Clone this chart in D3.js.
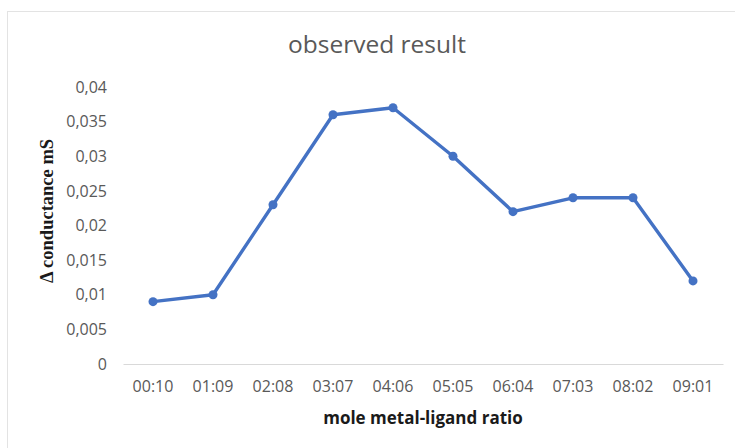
<!DOCTYPE html>
<html>
<head>
<meta charset="utf-8">
<script src="https://cdn.jsdelivr.net/npm/d3@7"></script>
<style>
  html, body { margin: 0; padding: 0; background: #ffffff; }
  svg { display: block; }
</style>
</head>
<body>
<svg id="chart" width="735" height="448"></svg>
<script>
// Mole ratio (metal:ligand) categories and the measured change in conductance
const ratios = ["00:10", "01:09", "02:08", "03:07", "04:06", "05:05", "06:04", "07:03", "08:02", "09:01"];
const conductance = [0.009, 0.010, 0.023, 0.036, 0.037, 0.030, 0.022, 0.024, 0.024, 0.012];
const yTicks = [0, 0.005, 0.01, 0.015, 0.02, 0.025, 0.03, 0.035, 0.04];

const titleText = "observed result";
const xTitle = "mole metal-ligand ratio";
const yTitle = "\u0394 conductance mS";

const svg = d3.select("#chart");
const W = 735, H = 448;
const plot = { left: 123, right: 723, top: 87, bottom: 364 };
const labelFont = "'Open Sans', sans-serif";

// Chart area frame
svg.append("rect")
  .attr("x", 7.5).attr("y", 11.5)
  .attr("width", W).attr("height", H)
  .attr("fill", "#ffffff")
  .attr("stroke", "#e3e3e3")
  .attr("stroke-width", 1);

const x = d3.scaleBand().domain(ratios).range([plot.left, plot.right]);
const y = d3.scaleLinear().domain([0, 0.04]).range([plot.bottom, plot.top]);

// Title
svg.append("text")
  .attr("x", 377).attr("y", 53)
  .attr("text-anchor", "middle")
  .attr("font-family", labelFont)
  .attr("font-size", 24.5)
  .attr("fill", "#595959")
  .text(titleText);

// Y axis (labels only, comma decimal separator)
const fmt = v => v === 0 ? "0" : String(+v.toFixed(3)).replace(".", ",");
const yAxis = svg.append("g")
  .attr("transform", `translate(${plot.left},0)`)
  .call(d3.axisLeft(y).tickValues(yTicks).tickFormat(fmt).tickSize(0).tickPadding(16));
yAxis.select(".domain").remove();
yAxis.selectAll("text")
  .attr("font-family", labelFont)
  .attr("font-size", 16)
  .attr("fill", "#595959");

// X axis with baseline
const xAxis = svg.append("g")
  .attr("transform", `translate(0,${plot.bottom})`)
  .call(d3.axisBottom(x).tickSize(0).tickPadding(17));
xAxis.select(".domain").attr("stroke", "#d9d9d9").attr("stroke-width", 1);
xAxis.selectAll("text")
  .attr("font-family", labelFont)
  .attr("font-size", 16)
  .attr("fill", "#595959");

// Axis titles
svg.append("text")
  .attr("x", 423).attr("y", 424)
  .attr("text-anchor", "middle")
  .attr("font-family", labelFont)
  .attr("font-weight", "bold")
  .attr("font-size", 17)
  .attr("fill", "#1a1a1a")
  .text(xTitle);

svg.append("text")
  .attr("transform", "translate(53,211) rotate(-90)")
  .attr("text-anchor", "middle")
  .attr("font-family", "'Liberation Serif', 'Times New Roman', serif")
  .attr("font-weight", "bold")
  .attr("font-size", 18.5)
  .attr("fill", "#1a1a1a")
  .text(yTitle);

// Series line and markers
const pts = ratios.map((r, i) => ({ r, v: conductance[i] }));
const cx = d => x(d.r) + x.bandwidth() / 2;

svg.append("path")
  .datum(pts)
  .attr("fill", "none")
  .attr("stroke", "#4472c4")
  .attr("stroke-width", 3.4)
  .attr("stroke-linejoin", "round")
  .attr("d", d3.line().x(cx).y(d => y(d.v)));

svg.selectAll("circle.pt")
  .data(pts)
  .enter().append("circle")
  .attr("class", "pt")
  .attr("cx", cx)
  .attr("cy", d => y(d.v))
  .attr("r", 4.5)
  .attr("fill", "#4472c4");
</script>
</body>
</html>
